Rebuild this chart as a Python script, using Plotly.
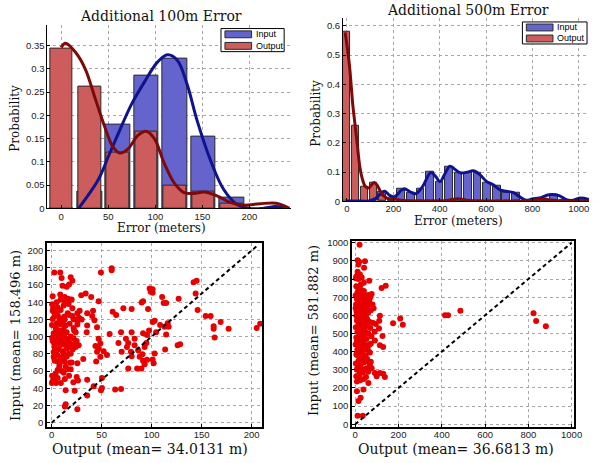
import plotly.graph_objects as go

W, H = 597, 463

# ---------------- Additional 100m error: histograms ----------------
bins100 = [0, 30.2, 60.4, 90.6, 120.8, 151.0, 181.2]
input100 = [0.0, 0.036, 0.179, 0.285, 0.322, 0.154, 0.023]
output100 = [0.344, 0.262, 0.119, 0.166, 0.048, 0.035, 0.011]

# smoothed densities
in100_x = [18.5, 39.5, 50, 60.5, 74.5, 88.5, 102.5, 113, 123.5, 134, 144.5,
           158.5, 172.5, 186.5, 200, 214, 228, 240]
in100_y = [0, 0.062, 0.111, 0.16, 0.223, 0.272, 0.315, 0.33, 0.318, 0.265,
           0.188, 0.104, 0.041, 0.009, 0.0, 0.0, 0.004, 0]
out100_x = [0, 4.5, 15, 25.5, 36, 46.5, 55, 62, 71, 81.5, 90, 99, 109.5, 120,
            130.5, 141, 151.5, 165.5, 179.5, 193.5, 211, 228.5, 242.5]
out100_y = [0.346, 0.355, 0.336, 0.30, 0.237, 0.174, 0.132, 0.119, 0.128,
            0.157, 0.166, 0.15, 0.097, 0.055, 0.034, 0.032, 0.035, 0.027,
            0.013, 0.007, 0.01, 0.011, 0]

# ---------------- Additional 500m error: histograms ----------------
bins500_in = [28.2, 69.4, 110.6, 151.8, 193.0, 234.2, 275.4, 316.6, 357.8,
              399.0, 440.2, 481.4, 522.6, 563.8, 605.0, 646.2, 687.4, 728.6,
              769.8, 811.0, 852.2, 893.4, 934.6, 975.8, 1017.0]
input500 = [0, 0, 0.003, 0.033, 0.01, 0.042, 0.03, 0.042, 0.1, 0.067, 0.118,
            0.096, 0.099, 0.099, 0.062, 0.054, 0.03, 0.028, 0, 0.008, 0.01,
            0.022, 0.005, 0, 0.01]
bins500_out = [-1.5, 37, 75.5, 114, 152.5, 191, 229.5, 268, 306.5, 345, 383.5,
               422, 460.5, 499, 537.5, 576, 614.5, 653, 691.5, 730, 768.5,
               807, 845.5, 884]
output500 = [0.58, 0.257, 0.05, 0.064, 0.02, 0.008, 0, 0, 0, 0, 0, 0, 0.005,
             0.005, 0, 0, 0, 0, 0, 0, 0, 0, 0.005, 0]

in500_x = [0, 50, 92, 120, 149, 163, 184, 205, 234, 248, 277, 298, 326, 362,
           383, 401, 423, 444, 461, 489, 517, 546, 574, 603, 631, 660, 688,
           716, 745, 773, 801, 830, 872, 915, 950, 975, 1005, 1044]
in500_y = [0, 0, 0, 0.008, 0.028, 0.034, 0.02, 0.015, 0.037, 0.043, 0.03,
           0.026, 0.05, 0.098, 0.084, 0.067, 0.095, 0.12, 0.112, 0.097, 0.099,
           0.104, 0.09, 0.067, 0.056, 0.039, 0.034, 0.03, 0.015, 0.003,
           0.008, 0.011, 0.022, 0.019, 0.004, 0.003, 0.011, 0.006]
out500_x = [-8, 10, 25, 35, 45, 55, 65, 78, 92, 105, 117, 130, 142, 156, 177,
            205, 234, 270, 350, 420, 447, 470, 489, 517, 574, 750, 801, 844,
            886, 929, 1044]
out500_y = [0.578, 0.47, 0.33, 0.26, 0.19, 0.12, 0.08, 0.052, 0.045, 0.055,
            0.064, 0.055, 0.037, 0.02, 0.009, 0.008, 0.003, 0.0, 0.0, 0.001,
            0.005, 0.008, 0.008, 0.003, 0, 0, 0.003, 0.008, 0.003, 0, 0]

# ---------------- scatter: input vs output error (100 m) ----------------
pts100 = [
    (101, 155), (101, 151), (110.5, 146), (112, 139), (114.5, 139), (127, 144),
    (142, 163), (145, 165), (144, 150), (146, 131), (154, 124), (159, 124),
    (162, 112), (162, 109), (169, 117), (177, 109), (163, 99), (205, 110),
    (208.5, 115), (103, 118.5), (101, 117), (108.5, 113.5), (113, 111.5),
    (116, 115.5), (117, 111.5), (104.5, 105), (114.5, 102.5), (113.5, 85),
    (126, 90), (128.5, 91), (103, 80.5), (101, 73.5), (102, 69),
    (2.6, 174.5), (8.6, 174.5), (9.9, 168), (19, 169), (20.7, 165), (10.9, 159),
    (15, 158), (17.4, 160.4), (29.6, 148), (34, 150), (39.5, 146), (49.3, 174.5),
    (60, 179.5), (60, 177), (1, 147), (8.6, 149), (13, 146), (16, 144), (18, 143),
    (9, 143), (13.5, 139.5), (0.5, 137.5), (1.6, 133.7), (6, 133.7), (4.3, 130),
    (20.7, 133), (47, 141), (41.4, 130), (40.5, 124), (42.8, 119), (35.5, 127),
    (25.7, 127), (27.3, 122), (20.7, 124), (21.7, 120.4), (17.4, 125), (12.5, 123),
    (1, 120.4), (3.3, 124), (7.6, 121.5), (0.3, 113.5), (5.3, 115.4), (9.2, 114),
    (14, 113), (25.7, 114), (35.5, 113), (45.4, 111), (35, 105), (22.4, 107),
    (4.3, 109), (6, 103), (11, 104), (0.5, 98.7), (2.6, 92), (7.6, 96.4),
    (8.6, 90), (12.5, 92.6), (17.4, 93.7), (20.7, 90), (23, 92), (15, 86),
    (4.3, 82.3), (2, 76.6), (6, 71), (11, 76.6), (13, 71), (17.4, 80.4),
    (18.4, 69.7), (25.7, 69), (31.6, 74), (7.6, 65), (6, 61.3), (0.5, 54.5),
    (2, 50.7), (0.3, 46), (4.3, 46), (9.2, 46), (17.4, 54.5), (13.2, 50.7),
    (25, 53), (26.3, 49), (35.5, 50), (14, 37.7), (23, 37), (21.7, 47), (42, 42.3),
    (35.5, 31.6), (49.3, 37.7), (25.7, 15.6), (14, 21.3), (13.2, 18.7), (47, 97.5),
    (48.7, 92), (47, 86), (43.8, 89), (45.4, 82.3), (48.7, 76.6), (44.5, 71),
    (52, 83), (55.3, 78.5), (50.3, 51.8), (50.3, 40.4), (63.5, 38.5), (69.4, 39.2),
    (58, 103), (61, 129), (64.5, 125), (71.7, 133), (80, 132), (90, 139.5),
    (91.4, 141), (96.4, 132), (69.4, 105), (80, 105), (66.8, 92.6), (74.3, 97.5),
    (76.6, 92.6), (70, 82.3), (75.3, 88), (79.3, 82.3), (83, 97.5), (83, 90),
    (80, 77.3), (86.5, 84), (88, 76.6), (90.8, 79.6), (93, 88), (94.7, 92.6),
    (91.4, 72), (93, 68), (85.5, 63), (89.8, 63), (76.6, 63), (95.4, 73),
    (97.4, 107), (95.4, 102), (91.4, 104), (98, 156), (99, 152),
    (1, 130), (3, 127), (6, 125), (8, 118), (11, 116), (4, 111), (7, 107),
    (12, 108), (15, 105), (2, 104), (9, 100), (13, 99), (16, 97), (19, 100),
    (22, 98), (1, 95), (5, 93), (10, 94), (14, 90), (18, 88), (21, 85), (3, 87),
    (7, 85), (11, 83), (25, 95), (27, 90), (24, 88), (6, 78), (9, 74), (12, 80),
    (15, 77), (3, 72), (8, 68), (14, 65), (16, 62), (10, 60), (4, 57), (12, 58),
    (19, 62), (20, 70), (6, 52), (1, 48), (22, 110), (18, 115), (13, 120),
    (16, 127), (9, 131), (5, 140), (12, 136), (17, 138), (20, 143), (23, 120),
    (26, 118), (28, 130), (30, 120), (24, 105), (19, 80), (6, 98), (2, 82),
]
out_err100 = [p[0] for p in pts100]
in_err100 = [p[1] for p in pts100]

# ---------------- scatter: input vs output error (500 m) ----------------
pts500 = [
    (20, 989), (11, 904), (45, 899), (15, 881), (18, 895), (41, 863), (11, 841),
    (5, 814), (30, 809), (65, 791), (3, 805), (22, 825), (15, 800), (122, 751),
    (141, 764), (76, 718), (5, 760), (15, 750), (28, 740), (40, 735), (10, 725),
    (52, 705), (60, 712), (70, 700), (20, 705), (35, 715), (2, 710), (45, 690),
    (8, 690), (25, 695), (48, 672), (65, 680), (15, 675), (30, 665), (80, 660),
    (55, 650), (10, 655), (38, 648), (2, 640), (20, 630), (72, 628), (45, 625),
    (60, 615), (30, 610), (15, 605), (5, 598), (85, 640), (114, 598), (111, 570),
    (175, 556), (208, 583), (220, 549), (40, 590), (55, 580), (25, 575), (8, 570),
    (65, 565), (80, 560), (95, 552), (35, 555), (15, 545), (50, 540), (3, 535),
    (70, 530), (28, 525), (110, 528), (45, 515), (90, 510), (10, 510), (60, 500),
    (20, 498), (38, 490), (126, 487), (75, 485), (5, 478), (52, 470), (30, 465),
    (91, 462), (15, 455), (72, 444), (40, 445), (2, 440), (60, 432), (114, 435),
    (129, 426), (25, 425), (50, 415), (10, 410), (35, 400), (68, 395), (20, 390),
    (5, 385), (45, 372), (55, 360), (30, 355), (15, 350), (72, 345), (40, 340),
    (3, 335), (53, 309), (68, 327), (76, 309), (25, 320), (10, 310), (45, 300),
    (60, 290), (35, 285), (91, 282), (114, 282), (129, 278), (99, 264), (137, 260),
    (20, 275), (5, 265), (50, 260), (23, 242), (8, 236), (61, 227), (40, 250),
    (38, 191), (8, 182), (25, 146), (15, 128), (11, 47), (35, 47),
    (415, 601), (429, 601), (486, 625), (824, 612), (836, 569), (881, 540),
    (12, 620), (28, 600), (42, 580), (18, 560), (6, 620), (33, 640), (50, 600),
    (22, 545), (12, 530), (36, 520), (55, 555), (26, 480), (44, 470), (8, 460),
    (18, 430), (32, 420), (58, 410), (12, 380), (28, 370), (40, 360), (22, 340),
    (60, 345), (8, 300), (30, 300), (18, 255), (48, 380), (65, 440), (36, 680),
    (52, 640), (18, 720), (26, 770), (40, 780), (10, 580), (4, 660), (62, 660),
]
out_err500 = [p[0] for p in pts500]
in_err500 = [p[1] for p in pts500]

# ---------------- styling ----------------
SERIF = "DejaVu Serif"
SANS = "Liberation Sans"
BAR_BLUE = "#6464cc"
BAR_RED = "#cd5c5c"
LINE_BLUE = "#10148c"
LINE_RED = "#7d0a0a"
EDGE = "#2a2a2a"
GRID = "#a8a8a8"

fig = go.Figure()

# top-left panel
fig.add_trace(go.Bar(x=bins100, y=input100, width=26, marker=dict(color=BAR_BLUE, line=dict(color=EDGE, width=1)),
                     xaxis="x", yaxis="y", showlegend=False))
fig.add_trace(go.Bar(x=bins100, y=output100, width=24, marker=dict(color=BAR_RED, line=dict(color=EDGE, width=1)),
                     xaxis="x", yaxis="y", showlegend=False))
fig.add_trace(go.Scatter(x=in100_x, y=in100_y, mode="lines", line=dict(color=LINE_BLUE, width=3, shape="spline", smoothing=1),
                         xaxis="x", yaxis="y", showlegend=False))
fig.add_trace(go.Scatter(x=out100_x, y=out100_y, mode="lines", line=dict(color=LINE_RED, width=3, shape="spline", smoothing=1),
                         xaxis="x", yaxis="y", showlegend=False))

# top-right panel
fig.add_trace(go.Bar(x=bins500_in, y=input500, width=33, marker=dict(color=BAR_BLUE, line=dict(color=EDGE, width=1)),
                     xaxis="x2", yaxis="y2", showlegend=False))
fig.add_trace(go.Bar(x=bins500_out, y=output500, width=31, marker=dict(color=BAR_RED, line=dict(color=EDGE, width=1)),
                     xaxis="x2", yaxis="y2", showlegend=False))
fig.add_trace(go.Scatter(x=in500_x, y=in500_y, mode="lines", line=dict(color=LINE_BLUE, width=3, shape="spline", smoothing=1),
                         xaxis="x2", yaxis="y2", showlegend=False))
fig.add_trace(go.Scatter(x=out500_x, y=out500_y, mode="lines", line=dict(color=LINE_RED, width=3, shape="spline", smoothing=1),
                         xaxis="x2", yaxis="y2", showlegend=False))

# bottom scatter panels
fig.add_trace(go.Scatter(x=out_err100, y=in_err100, mode="markers", marker=dict(color="#e80000", size=6),
                         xaxis="x3", yaxis="y3", showlegend=False))
fig.add_trace(go.Scatter(x=[0, 206], y=[0, 206], mode="lines", line=dict(color="black", width=2, dash="4px,3px"),
                         xaxis="x3", yaxis="y3", showlegend=False))
fig.add_trace(go.Scatter(x=out_err500, y=in_err500, mode="markers", marker=dict(color="#e80000", size=6),
                         xaxis="x4", yaxis="y4", showlegend=False))
fig.add_trace(go.Scatter(x=[0, 1000], y=[0, 1000], mode="lines", line=dict(color="black", width=2, dash="4px,3px"),
                         xaxis="x4", yaxis="y4", showlegend=False))


def px_x(p):
    return p / W


def px_y(p):
    return 1 - p / H


tickfont = dict(family=SANS, size=9.5, color="#222")
base = dict(showgrid=True, gridcolor=GRID, griddash="dot", gridwidth=1, zeroline=False,
            showline=True, linecolor="black", linewidth=1, ticks="inside", ticklen=3,
            tickcolor="black", tickfont=tickfont)

fig.update_layout(
    width=W, height=H, margin=dict(l=0, r=0, t=0, b=0),
    paper_bgcolor="white", plot_bgcolor="white", barmode="overlay", bargap=0,
    xaxis=dict(base, domain=[px_x(48), px_x(295)], range=[-14.7, 244.2],
               tickvals=[0, 50, 100, 150, 200], ticklabelstandoff=-1, anchor="y"),
    yaxis=dict(base, domain=[px_y(209), px_y(22)], range=[0, 0.395],
               tickvals=[0, 0.05, 0.1, 0.15, 0.2, 0.25, 0.3, 0.35],
               ticktext=["0", "0.05", "0.1", "0.15", "0.2", "0.25", "0.3", "0.35"], anchor="x"),
    xaxis2=dict(base, domain=[px_x(347.7), 1.0], range=[-17, 1044],
                tickvals=[0, 200, 400, 600, 800, 1000], ticklabelstandoff=-2, anchor="y2"),
    yaxis2=dict(base, domain=[px_y(201.7), px_y(15)], range=[0, 0.628],
                tickvals=[0, 0.1, 0.2, 0.3, 0.4, 0.5, 0.6],
                ticktext=["0", "0.1", "0.2", "0.3", "0.4", "0.5", "0.6"], anchor="x2"),
    xaxis3=dict(base, domain=[px_x(47.7), px_x(265.7)], range=[-4.6, 210.5],
                tickvals=[0, 50, 100, 150, 200], mirror=True, linewidth=1.5,
                ticklabelstandoff=-2, anchor="y3"),
    yaxis3=dict(base, domain=[px_y(431.7), px_y(244)], range=[-5.3, 209],
                tickvals=list(range(0, 201, 20)), mirror=True, linewidth=1.5, anchor="x3"),
    xaxis4=dict(base, domain=[px_x(356.7), px_x(581.7)], range=[-15.2, 1010.6],
                tickvals=[0, 200, 400, 600, 800, 1000], mirror=True, linewidth=1.5,
                ticklabelstandoff=-2, anchor="y4"),
    yaxis4=dict(base, domain=[px_y(431), px_y(241.7)], range=[-12.6, 1012.6],
                tickvals=list(range(0, 1001, 100)), mirror=True, linewidth=1.5, anchor="x4"),
)


def label(text, x, y, size, angle=0):
    fig.add_annotation(text=text, x=px_x(x), y=px_y(y), xref="paper", yref="paper",
                       showarrow=False, textangle=angle, xanchor="center", yanchor="middle",
                       font=dict(family=SERIF, size=size, color="#111"))


label("Additional 100m Error", 163, 13, 14)
label("Additional 500m Error", 474, 7, 14)
label("Probability", 15, 117, 12, -90)
label("Probability", 320, 112, 12, -90)
label("Error (meters)", 164, 229, 12)
label("Error (meters)", 465, 222, 12)
label("Input (mean= 158.496 m)", 15, 338, 13, -90)
label("Output (mean= 34.0131 m)", 152, 453.5, 14)
label("Input (mean= 581.882 m)", 318, 333, 13, -90)
label("Output (mean= 36.6813 m)", 462, 453.5, 14)


# legends drawn as boxed patches
def legend(x0, y0, x1, y1, names, colors):
    fig.add_shape(type="rect", xref="paper", yref="paper", x0=px_x(x0), x1=px_x(x1),
                  y0=px_y(y1), y1=px_y(y0), line=dict(color="black", width=1), fillcolor="white")
    n = len(names)
    step = (y1 - y0) / n
    for i, (nm, c) in enumerate(zip(names, colors)):
        cy = y0 + step * (i + 0.5)
        fig.add_shape(type="rect", xref="paper", yref="paper", x0=px_x(x0 + 4), x1=px_x(x0 + 31),
                      y0=px_y(cy + 3.5), y1=px_y(cy - 3.5), line=dict(color=EDGE, width=1), fillcolor=c)
        fig.add_annotation(text=nm, x=px_x(x0 + 33), y=px_y(cy), xref="paper", yref="paper",
                           showarrow=False, xanchor="left", yanchor="middle",
                           font=dict(family=SANS, size=9, color="black"))


legend(224, 26, 288, 49.5, ["Input", "Output"], [BAR_BLUE, BAR_RED])
legend(529.5, 19.3, 595, 41.7, ["Input", "Output"], [BAR_BLUE, BAR_RED])

fig.write_html("out.html")
